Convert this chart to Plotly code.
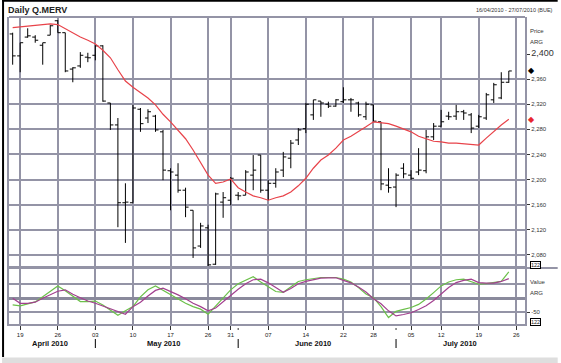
import plotly.graph_objects as go
import pandas as pd

# ---------------- data ----------------
HOLIDAYS = ["2010-05-24", "2010-05-25", "2010-06-21", "2010-07-09"]
trading_days = [d for d in pd.bdate_range("2010-04-16", "2010-07-27")
                if d.strftime("%Y-%m-%d") not in HOLIDAYS]

open_ = [2432, 2397, 2427, 2427, 2414, 2430, 2453, 2434, 2376, 2381,
         2395, 2398, 2413, 2322, 2287, 2163, 2163, 2312, 2298, 2301,
         2276, 2214, 2207, 2183, 2151, 2094, 2123, 2065, 2164, 2167,
         2175, 2175, 2207, 2239, 2183, 2194, 2215, 2234, 2263, 2281,
         2303, 2325, 2320, 2317, 2324, 2327, 2322, 2300, 2319, 2292,
         2191, 2188, 2218, 2207, 2212, 2214, 2268, 2285, 2301, 2301,
         2308, 2303, 2285, 2298, 2327, 2330, 2355]
high = [2434, 2418, 2441, 2430, 2418, 2446, 2454, 2434, 2379, 2403,
        2402, 2414, 2414, 2322, 2298, 2194, 2319, 2314, 2312, 2303,
        2279, 2218, 2226, 2187, 2151, 2131, 2128, 2179, 2180, 2204,
        2180, 2215, 2239, 2239, 2199, 2218, 2244, 2263, 2282, 2322,
        2327, 2325, 2324, 2328, 2347, 2330, 2324, 2324, 2319, 2292,
        2218, 2210, 2226, 2215, 2250, 2279, 2290, 2311, 2308, 2319,
        2311, 2306, 2303, 2338, 2354, 2371, 2373]
low = [2383, 2371, 2426, 2418, 2383, 2430, 2434, 2371, 2355, 2378,
       2387, 2390, 2324, 2279, 2124, 2099, 2163, 2276, 2290, 2276,
       2199, 2151, 2179, 2140, 2075, 2091, 2061, 2064, 2139, 2159,
       2167, 2175, 2183, 2179, 2167, 2187, 2204, 2218, 2255, 2274,
       2295, 2300, 2314, 2316, 2322, 2308, 2300, 2295, 2292, 2183,
       2179, 2156, 2202, 2199, 2207, 2210, 2263, 2284, 2295, 2295,
       2295, 2274, 2282, 2295, 2322, 2328, 2354]
close = [2397, 2418, 2429, 2422, 2418, 2445, 2434, 2373, 2378, 2398,
         2394, 2413, 2325, 2287, 2163, 2164, 2314, 2289, 2308, 2279,
         2215, 2212, 2183, 2156, 2091, 2126, 2064, 2177, 2171, 2202,
         2174, 2212, 2215, 2183, 2194, 2212, 2236, 2258, 2279, 2320,
         2327, 2322, 2317, 2327, 2327, 2327, 2303, 2320, 2293, 2193,
         2187, 2207, 2209, 2202, 2215, 2268, 2285, 2292, 2300, 2308,
         2306, 2282, 2300, 2335, 2351, 2355, 2373]
moving_avg = [2442, 2443, 2445, 2445, 2446, 2448, 2447, 2440, 2434, 2427,
              2422, 2416, 2406, 2394, 2375, 2357, 2347, 2339, 2330, 2319,
              2304, 2292, 2279, 2265, 2247, 2226, 2207, 2194, 2196, 2201,
              2187, 2180, 2174, 2171, 2167, 2171, 2174, 2180, 2190, 2202,
              2218, 2231, 2239, 2250, 2263, 2269, 2276, 2284, 2292, 2290,
              2289, 2285, 2281, 2276, 2269, 2265, 2261, 2260, 2258, 2258,
              2257, 2255, 2255, 2266, 2277, 2287, 2296]
osc_green = [-24, -27, -20, -13, 5, 25, 44, 27, 8, -12,
             -12, -10, -24, -42, -61, -45, -30, 5, 30, 44,
             28, 12, -1, -18, -30, -39, -57, -28, 0, 30,
             52, 65, 77, 58, 40, 24, 21, 42, 60, 66,
             70, 74, 74, 74, 68, 58, 38, 15, 2, -30,
             -69, -47, -40, -33, -22, -3, 20, 44, 58, 66,
             68, 60, 50, 52, 55, 60, 94]
osc_purple = [0, -18, -18, -14, 0, 14, 25, 30, 14, 2,
              -10, -18, -28, -36, -48, -57, -30, -14, 8, 28,
              36, 25, 12, -2, -18, -30, -45, -35, -12, 10,
              32, 52, 66, 68, 55, 38, 21, 35, 52, 60,
              66, 72, 73, 73, 64, 55, 40, 22, -2, -20,
              -45, -63, -58, -52, -40, -27, -8, 14, 38, 56,
              64, 68, 56, 54, 54, 60, 70]

price_ticks = [2080, 2120, 2160, 2200, 2240, 2280, 2320, 2360, 2400]
price_grid = [2080, 2120, 2160, 2200, 2240, 2280, 2320, 2360]
osc_ticks = [-50]
osc_grid = [0, 50]
month_names = ["April 2010", "May 2010", "June 2010", "July 2010"]

# ---------------- derived ----------------
idx = list(range(len(close)))
n_days = len(trading_days)
week_pos, week_lab = [], []
for i in range(1, n_days):
    if trading_days[i].isocalendar()[1] != trading_days[i - 1].isocalendar()[1]:
        week_pos.append(i)
        week_lab.append(trading_days[i].strftime("%d"))
month_start = [i for i in range(1, n_days) if trading_days[i].month != trading_days[i - 1].month]
groups = {}
for i, d in enumerate(trading_days):
    groups.setdefault(d.month, []).append(i)
month_center = [sum(v) / len(v) for v in groups.values()]

W, H = 561, 363
L, R, T, B = 7, 528, 17, 324
SPLIT = 268


def px_x(p):
    return (p - L) / (R - L)


def px_y(p):
    return (B - p) / (B - T)


GRID = "#9494a6"
FONT = "Liberation Sans, Arial, sans-serif"
split_paper = px_y(SPLIT)

fig = go.Figure()
fig.add_trace(go.Ohlc(
    x=idx, open=open_, high=high, low=low, close=close,
    xaxis="x", yaxis="y", tickwidth=0.4,
    increasing=dict(line=dict(color="black", width=1)),
    decreasing=dict(line=dict(color="black", width=1)),
    showlegend=False, hoverinfo="skip"))
fig.add_trace(go.Scatter(x=idx, y=moving_avg, mode="lines", xaxis="x", yaxis="y",
                         line=dict(color="#e8434a", width=1.2), showlegend=False, hoverinfo="skip"))
fig.add_trace(go.Scatter(x=idx, y=osc_green, mode="lines", xaxis="x2", yaxis="y2",
                         line=dict(color="#6cc04a", width=1.2), showlegend=False, hoverinfo="skip"))
fig.add_trace(go.Scatter(x=idx, y=osc_purple, mode="lines", xaxis="x2", yaxis="y2",
                         line=dict(color="#a2408f", width=1.2), showlegend=False, hoverinfo="skip"))

xr = [(L - 10.7) / 7.59, (R - 10.7) / 7.59]
common_x = dict(range=xr, showgrid=True, gridcolor=GRID, gridwidth=2, zeroline=False,
                linecolor=GRID, linewidth=2, tickvals=week_pos, fixedrange=True)

fig.update_layout(
    width=W, height=H,
    margin=dict(l=L, r=W - R, t=T, b=H - B, pad=0),
    paper_bgcolor="white", plot_bgcolor="white",
    font=dict(family=FONT, color="#222"),
    xaxis=dict(**common_x, domain=[0, 1], anchor="y", showticklabels=False, ticks="",
               showline=False, rangeslider=dict(visible=False)),
    xaxis2=dict(**common_x, domain=[0, 1], anchor="y2", matches="x",
                showline=True, mirror=True,
                ticktext=week_lab, showticklabels=True, ticks="outside", ticklen=4,
                tickcolor="#333", tickwidth=1,
                tickfont=dict(size=6, color="#222", family=FONT)),
    yaxis=dict(domain=[split_paper, 1], anchor="x", side="right",
               range=[2059, 2459], tickvals=price_ticks,
               ticktext=[("<span style='font-size:9px'>%s</span>" % f"{v:,}") if v == 2400 else f"{v:,}"
                         for v in price_ticks],
               ticks="outside", ticklen=3, tickcolor="#333",
               tickfont=dict(size=6, color="#333", family=FONT),
               showgrid=False, zeroline=False,
               minor=dict(tickmode="array", tickvals=price_grid, showgrid=True,
                          gridcolor=GRID, gridwidth=2, ticks=""),
               showline=True, mirror=True, linecolor=GRID, linewidth=2),
    yaxis2=dict(domain=[0, split_paper], anchor="x2", side="right",
                range=[-92, 108], tickvals=osc_ticks, ticktext=[str(v) for v in osc_ticks],
                ticks="outside", ticklen=3, tickcolor="#333",
                tickfont=dict(size=6, color="#333", family=FONT),
                showgrid=True, gridcolor=GRID, gridwidth=2,
                minor=dict(tickmode="array", tickvals=osc_grid, showgrid=True,
                           gridcolor=GRID, gridwidth=2, ticks=""),
                zeroline=True, zerolinecolor="#8a8a9c", zerolinewidth=3,
                showline=True, mirror=True, linecolor=GRID, linewidth=2),
)

shapes = [
    # top border of price panel
    dict(type="line", xref="paper", yref="paper", x0=0, x1=1, y0=1, y1=1,
         line=dict(color=GRID, width=2)),
    # panel separator extending to the right edge
    dict(type="line", xref="paper", yref="paper", x0=0, x1=px_x(W), y0=split_paper, y1=split_paper,
         line=dict(color=GRID, width=2)),
    # outer screenshot frame
    dict(type="line", xref="paper", yref="paper", x0=px_x(0), x1=px_x(W), y0=px_y(0.8), y1=px_y(0.8),
         line=dict(color="black", width=2)),
    dict(type="line", xref="paper", yref="paper", x0=px_x(1), x1=px_x(1), y0=px_y(0), y1=px_y(357),
         line=dict(color="black", width=2)),
    dict(type="rect", xref="paper", yref="paper", x0=px_x(0), x1=px_x(W), y0=px_y(357.5), y1=px_y(H),
         fillcolor="#dedede", line=dict(width=0)),
]
for m in month_start:
    shapes.append(dict(type="line", xref="x2", yref="paper", x0=m, x1=m,
                       y0=px_y(339), y1=px_y(348), line=dict(color="black", width=1)))
    shapes.append(dict(type="line", xref="x2", yref="paper", x0=m, x1=m,
                       y0=px_y(328), y1=px_y(330), line=dict(color="#333", width=1)))
fig.update_layout(shapes=shapes)

ann = [
    dict(text="<b>Daily Q.MERV</b>", xref="paper", yref="paper", x=px_x(4), y=px_y(10),
         xanchor="left", yanchor="middle", showarrow=False, font=dict(size=9, color="#222")),
    dict(text="16/04/2010 - 27/07/2010 (BUE)", xref="paper", yref="paper", x=px_x(558), y=px_y(10),
         xanchor="right", yanchor="middle", showarrow=False, font=dict(size=5.5, color="#333")),
    dict(text="Price", xref="paper", yref="paper", x=px_x(531), y=px_y(31),
         xanchor="left", yanchor="middle", showarrow=False, font=dict(size=6, color="#333")),
    dict(text="ARG", xref="paper", yref="paper", x=px_x(531), y=px_y(42),
         xanchor="left", yanchor="middle", showarrow=False, font=dict(size=6, color="#333")),
    dict(text="Value", xref="paper", yref="paper", x=px_x(531), y=px_y(282),
         xanchor="left", yanchor="middle", showarrow=False, font=dict(size=6, color="#333")),
    dict(text="ARG", xref="paper", yref="paper", x=px_x(531), y=px_y(293),
         xanchor="left", yanchor="middle", showarrow=False, font=dict(size=6, color="#333")),
    dict(text="122", xref="paper", yref="paper", x=px_x(533), y=px_y(265),
         xanchor="left", yanchor="middle", showarrow=False, font=dict(size=5.5, color="#222"),
         bordercolor="black", borderwidth=1, borderpad=0, bgcolor="white"),
    dict(text="122", xref="paper", yref="paper", x=px_x(533), y=px_y(322),
         xanchor="left", yanchor="middle", showarrow=False, font=dict(size=5.5, color="#222"),
         bordercolor="black", borderwidth=1, borderpad=0, bgcolor="white"),
    dict(text="◆", xref="paper", yref="y", x=px_x(529), y=close[-1],
         xanchor="left", yanchor="middle", showarrow=False, font=dict(size=8, color="black")),
    dict(text="◆", xref="paper", yref="y", x=px_x(529), y=moving_avg[-1],
         xanchor="left", yanchor="middle", showarrow=False, font=dict(size=8, color="#e8262e")),
]
for name, c in zip(month_names, month_center):
    ann.append(dict(text="<b>%s</b>" % name, xref="x2", yref="paper", x=c, y=px_y(343),
                    xanchor="center", yanchor="middle", showarrow=False,
                    font=dict(size=7.5, color="#111")))
fig.update_layout(annotations=ann)

fig.write_html("out.html", config={"displayModeBar": False, "staticPlot": True},
               post_script="document.body.style.margin='0';")
